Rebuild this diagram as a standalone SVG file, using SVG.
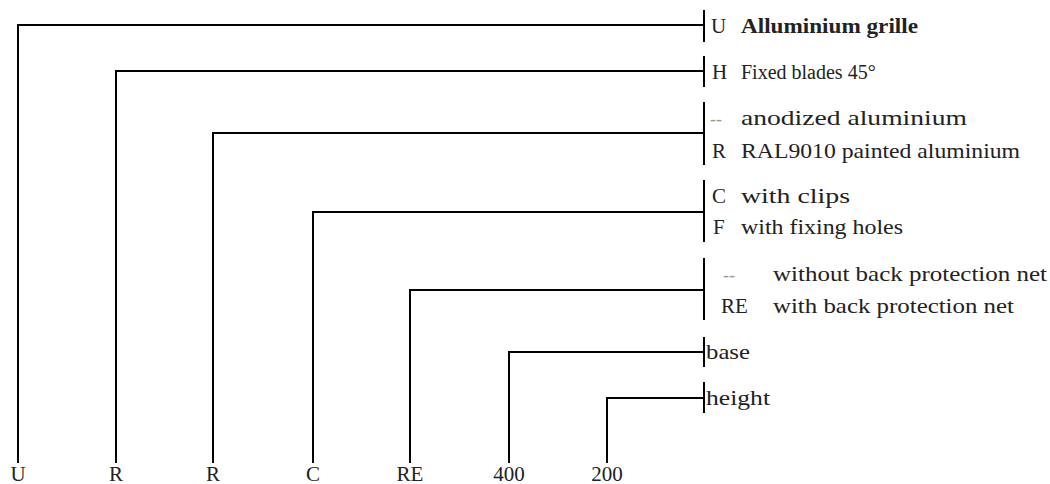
<svg xmlns="http://www.w3.org/2000/svg" width="1050" height="484" viewBox="0 0 1050 484">
<style>
.ln{fill:none;stroke:#000;stroke-width:2}
.t{font-family:"Liberation Serif","Times New Roman",serif;font-size:21px;fill:#222}
.b{font-weight:bold}
.m{text-anchor:middle}
.d{font-family:"Liberation Serif",serif;font-size:18px;font-style:italic;fill:#999}
</style>
<rect width="1050" height="484" fill="#fff"/>
<g id="connectors">
<path class="ln" d="M18,463V25H704"/>
<path class="ln" d="M116,463V71H704"/>
<path class="ln" d="M213,463V133H704"/>
<path class="ln" d="M313,463V212H704"/>
<path class="ln" d="M410,463V290H704"/>
<path class="ln" d="M509,463V352H704"/>
<path class="ln" d="M607,463V398H704"/>
</g>
<g id="bottom-labels">
<text class="t m" x="18" y="481">U</text>
<text class="t m" x="116" y="481">R</text>
<text class="t m" x="213" y="481">R</text>
<text class="t m" x="313" y="481">C</text>
<text class="t m" x="410" y="481">RE</text>
<text class="t m" x="509" y="481">400</text>
<text class="t m" x="607" y="481">200</text>
</g>
<g id="node-U">
<path class="ln" d="M704,10V42"/>
<text class="t" x="711" y="33">U</text>
<text class="t b" x="741" y="33" textLength="177" lengthAdjust="spacingAndGlyphs">Alluminium grille</text>
</g>
<g id="node-H">
<path class="ln" d="M704,56V87"/>
<text class="t" x="712" y="79">H</text>
<text class="t" x="741" y="79" style="font-size:20px">Fixed blades 45°</text>
</g>
<g id="node-finish">
<path class="ln" d="M704,102V165"/>
<text class="d" x="710" y="125">--</text>
<text class="t" x="741" y="125" textLength="226" lengthAdjust="spacingAndGlyphs">anodized aluminium</text>
<text class="t" x="712" y="158">R</text>
<text class="t" x="741" y="158" textLength="279" lengthAdjust="spacingAndGlyphs">RAL9010 painted aluminium</text>
</g>
<g id="node-fixing">
<path class="ln" d="M704,180V242"/>
<text class="t" x="712" y="203">C</text>
<text class="t" x="741" y="203" textLength="109" lengthAdjust="spacingAndGlyphs">with clips</text>
<text class="t" x="713" y="234">F</text>
<text class="t" x="741" y="234" textLength="162" lengthAdjust="spacingAndGlyphs">with fixing holes</text>
</g>
<g id="node-net">
<path class="ln" d="M704,258V320"/>
<text class="d" x="723" y="281">--</text>
<text class="t" x="721" y="313">RE</text>
<text class="t" x="773" y="281" textLength="274" lengthAdjust="spacingAndGlyphs">without back protection net</text>
<text class="t" x="773" y="313" textLength="241" lengthAdjust="spacingAndGlyphs">with back protection net</text>
</g>
<g id="node-base">
<path class="ln" d="M704,337V367"/>
<text class="t" x="706" y="359" textLength="44" lengthAdjust="spacingAndGlyphs">base</text>
</g>
<g id="node-height">
<path class="ln" d="M704,382V413"/>
<text class="t" x="706" y="405" textLength="64" lengthAdjust="spacingAndGlyphs">height</text>
</g>
</svg>
